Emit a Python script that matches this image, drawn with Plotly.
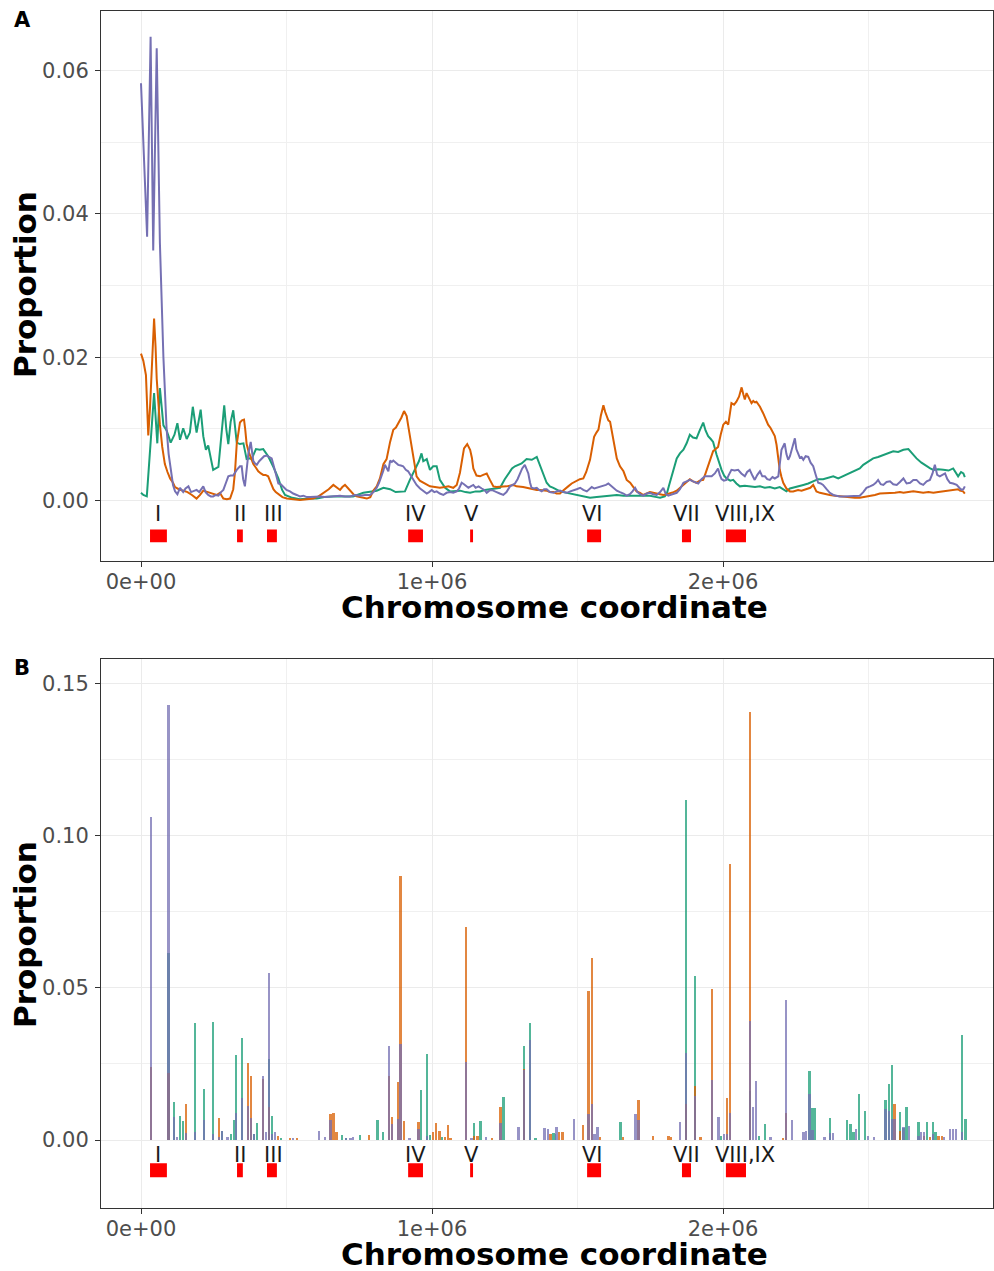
import plotly.graph_objects as go

# ---------------- Panel A: smoothed proportions (x in kb) ----------------
green_x = [0, 8, 20, 33, 45, 56, 65, 77, 88, 102, 115, 125, 134, 145, 157, 168, 178, 191, 205, 214, 223, 231, 240, 248, 257, 266, 276, 286, 293, 300, 308, 317, 329, 340, 352, 363, 372, 380, 395, 408, 420, 437, 455, 472, 485, 495, 520, 546, 575, 604, 630, 661, 695, 729, 764, 790, 810, 833, 856, 875, 890, 907, 924, 941, 955, 964, 970, 982, 993, 1004, 1016, 1027, 1045, 1062, 1080, 1097, 1115, 1131, 1150, 1165, 1182, 1200, 1217, 1234, 1250, 1262, 1275, 1285, 1297, 1308, 1325, 1343, 1360, 1370, 1377, 1394, 1405, 1417, 1440, 1463, 1480, 1497, 1520, 1543, 1566, 1589, 1612, 1635, 1658, 1681, 1703, 1726, 1749, 1772, 1784, 1800, 1807, 1815, 1824, 1833, 1841, 1852, 1864, 1875, 1886, 1897, 1909, 1920, 1932, 1940, 1949, 1958, 1966, 1978, 1987, 1995, 2004, 2012, 2025, 2035, 2046, 2058, 2075, 2092, 2110, 2127, 2144, 2161, 2178, 2195, 2207, 2218, 2230, 2241, 2258, 2276, 2293, 2310, 2327, 2344, 2361, 2379, 2396, 2413, 2436, 2459, 2470, 2482, 2500, 2516, 2533, 2551, 2568, 2585, 2602, 2620, 2637, 2650, 2665, 2682, 2700, 2712, 2723, 2740, 2757, 2775, 2791, 2800, 2808, 2818, 2826, 2831]
green_y = [0.0011, 0.0008, 0.0006, 0.0085, 0.0150, 0.0080, 0.0157, 0.0105, 0.0098, 0.0081, 0.0092, 0.0108, 0.0085, 0.0101, 0.0086, 0.0095, 0.0131, 0.0095, 0.0127, 0.0090, 0.0071, 0.0077, 0.0060, 0.0043, 0.0045, 0.0047, 0.0090, 0.0133, 0.0100, 0.0079, 0.0110, 0.0126, 0.0081, 0.0079, 0.0080, 0.0058, 0.0059, 0.0058, 0.0072, 0.0071, 0.0072, 0.0062, 0.0047, 0.0031, 0.0015, 0.0008, 0.0004, 0.0002, 0.0003, 0.0003, 0.0005, 0.0006, 0.0006, 0.0006, 0.0011, 0.0013, 0.0014, 0.0018, 0.0016, 0.0012, 0.0012, 0.0013, 0.0029, 0.0043, 0.0055, 0.0066, 0.0055, 0.0058, 0.0043, 0.0048, 0.0048, 0.0029, 0.0018, 0.0013, 0.0014, 0.0014, 0.0012, 0.0011, 0.0013, 0.0013, 0.0015, 0.0016, 0.0017, 0.0018, 0.0030, 0.0038, 0.0045, 0.0048, 0.0050, 0.0052, 0.0058, 0.0057, 0.0061, 0.0050, 0.0043, 0.0025, 0.0020, 0.0018, 0.0013, 0.0011, 0.0009, 0.0007, 0.0005, 0.0004, 0.0005, 0.0006, 0.0007, 0.0008, 0.0007, 0.0007, 0.0006, 0.0007, 0.0007, 0.0005, 0.0004, 0.0006, 0.0010, 0.0022, 0.0034, 0.0048, 0.0059, 0.0066, 0.0071, 0.0080, 0.0092, 0.0088, 0.0087, 0.0098, 0.0109, 0.0098, 0.0090, 0.0086, 0.0082, 0.0064, 0.0052, 0.0043, 0.0035, 0.0031, 0.0028, 0.0029, 0.0024, 0.0020, 0.0021, 0.0020, 0.0019, 0.0020, 0.0018, 0.0019, 0.0017, 0.0019, 0.0016, 0.0013, 0.0017, 0.0018, 0.0020, 0.0022, 0.0024, 0.0027, 0.0030, 0.0030, 0.0032, 0.0034, 0.0031, 0.0034, 0.0038, 0.0043, 0.0045, 0.0050, 0.0055, 0.0059, 0.0061, 0.0064, 0.0066, 0.0069, 0.0068, 0.0071, 0.0072, 0.0066, 0.0059, 0.0053, 0.0048, 0.0045, 0.0043, 0.0044, 0.0043, 0.0042, 0.0045, 0.0040, 0.0034, 0.0040, 0.0038, 0.0033]

orange_x = [0, 8, 17, 25, 31, 37, 45, 50, 54, 60, 65, 73, 82, 91, 100, 110, 117, 130, 145, 160, 175, 191, 203, 214, 230, 248, 260, 271, 283, 295, 306, 317, 323, 329, 335, 340, 347, 354, 358, 363, 370, 375, 386, 395, 403, 412, 420, 428, 437, 446, 455, 463, 472, 486, 501, 523, 546, 570, 592, 610, 627, 645, 661, 672, 684, 692, 701, 710, 718, 730, 741, 760, 776, 788, 798, 810, 821, 833, 844, 856, 867, 876, 884, 895, 904, 913, 918, 924, 930, 936, 947, 958, 970, 982, 993, 1010, 1027, 1045, 1056, 1073, 1085, 1096, 1104, 1110, 1121, 1131, 1137, 1142, 1153, 1165, 1176, 1188, 1199, 1211, 1222, 1234, 1245, 1256, 1268, 1279, 1290, 1302, 1313, 1325, 1336, 1348, 1360, 1371, 1383, 1394, 1405, 1417, 1428, 1440, 1450, 1457, 1468, 1480, 1490, 1497, 1508, 1520, 1530, 1543, 1550, 1557, 1565, 1572, 1580, 1589, 1595, 1600, 1606, 1612, 1618, 1623, 1629, 1635, 1646, 1658, 1669, 1681, 1692, 1703, 1715, 1726, 1738, 1749, 1760, 1772, 1784, 1795, 1807, 1818, 1830, 1841, 1852, 1864, 1875, 1886, 1897, 1909, 1920, 1932, 1940, 1949, 1958, 1966, 1975, 1983, 1992, 2001, 2010, 2018, 2024, 2029, 2038, 2046, 2055, 2064, 2070, 2075, 2081, 2087, 2092, 2098, 2104, 2110, 2115, 2127, 2138, 2146, 2155, 2164, 2172, 2178, 2184, 2190, 2195, 2201, 2207, 2218, 2230, 2241, 2258, 2270, 2287, 2300, 2310, 2321, 2333, 2350, 2367, 2385, 2402, 2419, 2436, 2453, 2470, 2487, 2505, 2522, 2539, 2557, 2574, 2591, 2608, 2620, 2637, 2654, 2671, 2688, 2706, 2723, 2740, 2757, 2774, 2791, 2808, 2814, 2825, 2831]
orange_y = [0.0205, 0.0195, 0.0175, 0.0091, 0.0130, 0.0190, 0.0254, 0.0215, 0.0170, 0.0135, 0.0106, 0.0075, 0.0051, 0.0040, 0.0031, 0.0025, 0.0019, 0.0016, 0.0014, 0.0012, 0.0008, 0.0003, 0.0008, 0.0014, 0.0012, 0.0009, 0.0008, 0.0011, 0.0003, 0.0002, 0.0003, 0.0016, 0.0040, 0.0079, 0.0098, 0.0109, 0.0112, 0.0113, 0.0100, 0.0079, 0.0068, 0.0062, 0.0051, 0.0046, 0.0041, 0.0038, 0.0036, 0.0036, 0.0034, 0.0025, 0.0016, 0.0012, 0.0009, 0.0005, 0.0003, 0.0002, 0.0001, 0.0002, 0.0003, 0.0006, 0.0011, 0.0016, 0.0022, 0.0019, 0.0015, 0.0019, 0.0022, 0.0018, 0.0014, 0.0009, 0.0006, 0.0004, 0.0003, 0.0005, 0.0014, 0.0020, 0.0031, 0.0051, 0.0058, 0.0082, 0.0099, 0.0102, 0.0108, 0.0116, 0.0125, 0.0118, 0.0105, 0.0090, 0.0075, 0.0057, 0.0034, 0.0028, 0.0025, 0.0023, 0.0020, 0.0019, 0.0018, 0.0019, 0.0020, 0.0018, 0.0022, 0.0039, 0.0058, 0.0073, 0.0079, 0.0071, 0.0060, 0.0045, 0.0035, 0.0034, 0.0036, 0.0038, 0.0029, 0.0020, 0.0019, 0.0019, 0.0020, 0.0020, 0.0021, 0.0022, 0.0020, 0.0020, 0.0019, 0.0018, 0.0017, 0.0016, 0.0015, 0.0015, 0.0014, 0.0014, 0.0012, 0.0012, 0.0010, 0.0010, 0.0014, 0.0016, 0.0020, 0.0024, 0.0026, 0.0027, 0.0030, 0.0031, 0.0040, 0.0057, 0.0072, 0.0089, 0.0095, 0.0099, 0.0118, 0.0133, 0.0124, 0.0117, 0.0112, 0.0110, 0.0098, 0.0085, 0.0072, 0.0059, 0.0048, 0.0041, 0.0029, 0.0025, 0.0019, 0.0013, 0.0011, 0.0008, 0.0010, 0.0012, 0.0011, 0.0010, 0.0008, 0.0008, 0.0009, 0.0010, 0.0012, 0.0014, 0.0018, 0.0022, 0.0027, 0.0030, 0.0027, 0.0025, 0.0028, 0.0029, 0.0038, 0.0048, 0.0058, 0.0069, 0.0072, 0.0075, 0.0092, 0.0106, 0.0110, 0.0106, 0.0122, 0.0136, 0.0134, 0.0138, 0.0145, 0.0158, 0.0148, 0.0141, 0.0150, 0.0145, 0.0140, 0.0136, 0.0139, 0.0137, 0.0138, 0.0131, 0.0122, 0.0115, 0.0106, 0.0101, 0.0094, 0.0090, 0.0078, 0.0060, 0.0043, 0.0033, 0.0025, 0.0017, 0.0013, 0.0013, 0.0015, 0.0014, 0.0016, 0.0018, 0.0022, 0.0013, 0.0011, 0.0009, 0.0008, 0.0007, 0.0006, 0.0005, 0.0004, 0.0004, 0.0004, 0.0005, 0.0007, 0.0008, 0.0010, 0.0010, 0.0010, 0.0011, 0.0012, 0.0011, 0.0012, 0.0013, 0.0012, 0.0011, 0.0012, 0.0011, 0.0012, 0.0013, 0.0014, 0.0015, 0.0016, 0.0014, 0.0013, 0.0010]

purple_x = [0, 21, 33, 42, 54, 65, 77, 88, 95, 102, 110, 117, 125, 134, 145, 153, 163, 172, 180, 191, 200, 214, 222, 231, 240, 248, 257, 266, 275, 283, 292, 300, 308, 317, 329, 340, 346, 351, 357, 363, 369, 377, 382, 386, 392, 398, 406, 415, 423, 432, 440, 449, 455, 460, 466, 472, 480, 489, 500, 512, 523, 535, 546, 558, 570, 581, 598, 615, 632, 650, 667, 684, 701, 718, 735, 753, 770, 787, 799, 810, 818, 827, 833, 838, 845, 850, 856, 862, 867, 876, 884, 893, 901, 910, 918, 927, 936, 947, 959, 970, 982, 990, 999, 1008, 1016, 1027, 1039, 1050, 1062, 1073, 1085, 1093, 1102, 1110, 1118, 1125, 1133, 1142, 1150, 1160, 1171, 1180, 1188, 1197, 1205, 1214, 1222, 1233, 1245, 1256, 1268, 1277, 1285, 1294, 1302, 1310, 1319, 1325, 1331, 1337, 1342, 1351, 1360, 1368, 1377, 1385, 1394, 1405, 1417, 1428, 1440, 1452, 1463, 1475, 1486, 1497, 1509, 1520, 1532, 1540, 1549, 1558, 1566, 1578, 1589, 1598, 1606, 1614, 1623, 1635, 1646, 1658, 1669, 1680, 1689, 1698, 1706, 1715, 1726, 1738, 1749, 1760, 1772, 1784, 1795, 1803, 1812, 1826, 1841, 1852, 1864, 1875, 1886, 1897, 1906, 1915, 1926, 1938, 1949, 1961, 1972, 1983, 1989, 1995, 2003, 2012, 2020, 2029, 2040, 2052, 2063, 2075, 2083, 2092, 2101, 2109, 2118, 2127, 2135, 2144, 2152, 2161, 2170, 2178, 2190, 2196, 2201, 2207, 2212, 2218, 2224, 2230, 2235, 2241, 2247, 2252, 2258, 2264, 2270, 2276, 2284, 2293, 2301, 2310, 2318, 2327, 2336, 2344, 2356, 2367, 2379, 2390, 2401, 2413, 2430, 2447, 2459, 2470, 2482, 2493, 2505, 2516, 2525, 2533, 2542, 2551, 2562, 2574, 2585, 2597, 2608, 2620, 2631, 2643, 2654, 2665, 2677, 2688, 2700, 2711, 2720, 2728, 2736, 2745, 2754, 2763, 2771, 2780, 2791, 2803, 2812, 2820, 2826, 2831]
purple_y = [0.0582, 0.0368, 0.0647, 0.0349, 0.0631, 0.0359, 0.0200, 0.0100, 0.0065, 0.0041, 0.0022, 0.0013, 0.0009, 0.0018, 0.0012, 0.0017, 0.0020, 0.0012, 0.0013, 0.0015, 0.0012, 0.0020, 0.0012, 0.0008, 0.0006, 0.0006, 0.0008, 0.0007, 0.0012, 0.0015, 0.0025, 0.0034, 0.0035, 0.0035, 0.0043, 0.0048, 0.0048, 0.0030, 0.0020, 0.0045, 0.0066, 0.0082, 0.0070, 0.0055, 0.0052, 0.0050, 0.0055, 0.0059, 0.0062, 0.0063, 0.0061, 0.0059, 0.0050, 0.0043, 0.0033, 0.0024, 0.0023, 0.0020, 0.0015, 0.0013, 0.0010, 0.0008, 0.0006, 0.0007, 0.0005, 0.0005, 0.0006, 0.0006, 0.0005, 0.0006, 0.0007, 0.0007, 0.0006, 0.0006, 0.0008, 0.0007, 0.0008, 0.0008, 0.0012, 0.0018, 0.0025, 0.0034, 0.0042, 0.0050, 0.0044, 0.0041, 0.0056, 0.0054, 0.0056, 0.0052, 0.0050, 0.0049, 0.0048, 0.0043, 0.0041, 0.0035, 0.0029, 0.0022, 0.0017, 0.0013, 0.0010, 0.0012, 0.0015, 0.0012, 0.0013, 0.0010, 0.0008, 0.0011, 0.0012, 0.0011, 0.0013, 0.0017, 0.0025, 0.0023, 0.0020, 0.0018, 0.0020, 0.0022, 0.0018, 0.0020, 0.0017, 0.0015, 0.0011, 0.0014, 0.0015, 0.0013, 0.0012, 0.0010, 0.0008, 0.0012, 0.0020, 0.0022, 0.0024, 0.0030, 0.0038, 0.0045, 0.0050, 0.0045, 0.0038, 0.0025, 0.0018, 0.0017, 0.0018, 0.0015, 0.0013, 0.0016, 0.0016, 0.0012, 0.0011, 0.0013, 0.0014, 0.0012, 0.0011, 0.0013, 0.0015, 0.0016, 0.0018, 0.0015, 0.0013, 0.0016, 0.0019, 0.0017, 0.0018, 0.0019, 0.0020, 0.0022, 0.0024, 0.0021, 0.0018, 0.0014, 0.0012, 0.0010, 0.0007, 0.0009, 0.0013, 0.0018, 0.0012, 0.0009, 0.0007, 0.0010, 0.0011, 0.0009, 0.0008, 0.0012, 0.0018, 0.0010, 0.0007, 0.0009, 0.0011, 0.0016, 0.0025, 0.0027, 0.0029, 0.0027, 0.0025, 0.0024, 0.0030, 0.0034, 0.0034, 0.0034, 0.0038, 0.0045, 0.0036, 0.0030, 0.0028, 0.0029, 0.0036, 0.0043, 0.0042, 0.0043, 0.0038, 0.0034, 0.0040, 0.0043, 0.0035, 0.0029, 0.0036, 0.0041, 0.0034, 0.0034, 0.0030, 0.0029, 0.0033, 0.0031, 0.0034, 0.0055, 0.0071, 0.0076, 0.0080, 0.0065, 0.0057, 0.0062, 0.0070, 0.0080, 0.0087, 0.0072, 0.0066, 0.0060, 0.0061, 0.0057, 0.0062, 0.0061, 0.0053, 0.0048, 0.0037, 0.0025, 0.0024, 0.0022, 0.0016, 0.0011, 0.0008, 0.0007, 0.0006, 0.0006, 0.0006, 0.0006, 0.0007, 0.0007, 0.0012, 0.0018, 0.0020, 0.0022, 0.0025, 0.0029, 0.0023, 0.0022, 0.0026, 0.0027, 0.0023, 0.0022, 0.0026, 0.0031, 0.0024, 0.0025, 0.0029, 0.0029, 0.0024, 0.0022, 0.0027, 0.0029, 0.0038, 0.0050, 0.0036, 0.0034, 0.0036, 0.0038, 0.0030, 0.0025, 0.0024, 0.0022, 0.0018, 0.0015, 0.0016, 0.0020]

# ---------------- Panel B: per-site proportions (x in kb) ----------------
bar_green_x = [95, 114, 134, 144, 186, 216, 247, 278, 309, 319, 327, 347, 388, 399, 440, 450, 481, 691, 705, 753, 812, 832, 963, 983, 993, 1034, 1145, 1166, 1246, 1316, 1337, 1356, 1417, 1423, 1648, 1873, 1904, 1994, 2093, 2124, 2144, 2297, 2307, 2317, 2368, 2427, 2438, 2448, 2467, 2488, 2559, 2570, 2580, 2609, 2620, 2630, 2671, 2701, 2721, 2731, 2822, 2833]
bar_green_y = [0.0615, 0.0125, 0.0078, 0.0063, 0.0385, 0.0168, 0.0388, 0.0030, 0.0020, 0.0067, 0.0280, 0.0335, 0.0020, 0.0057, 0.0267, 0.0080, 0.0005, 0.0018, 0.0005, 0.0015, 0.0066, 0.0025, 0.0163, 0.0284, 0.0016, 0.0010, 0.0055, 0.0064, 0.0140, 0.0308, 0.0385, 0.0005, 0.0022, 0.0020, 0.0058, 0.1118, 0.0540, 0.0014, 0.0160, 0.0014, 0.0053, 0.0225, 0.0105, 0.0105, 0.0072, 0.0066, 0.0053, 0.0025, 0.0151, 0.0096, 0.0132, 0.0184, 0.0247, 0.0093, 0.0038, 0.0107, 0.0058, 0.0058, 0.0058, 0.0025, 0.0345, 0.0069]

bar_orange_x = [34, 95, 155, 268, 368, 378, 419, 440, 471, 512, 536, 651, 661, 671, 783, 852, 862, 883, 892, 903, 954, 1004, 1014, 1025, 1045, 1055, 1064, 1116, 1145, 1157, 1206, 1236, 1316, 1407, 1437, 1448, 1518, 1538, 1549, 1578, 1657, 1710, 1760, 1812, 1822, 1873, 1904, 1922, 1963, 2013, 2024, 2093, 2206, 2216, 2590, 2609, 2691, 2711, 2741, 2752]
bar_orange_y = [0.0240, 0.0220, 0.0117, 0.0072, 0.0253, 0.0210, 0.0200, 0.0107, 0.0012, 0.0005, 0.0005, 0.0084, 0.0090, 0.0026, 0.0015, 0.0210, 0.0077, 0.0190, 0.0868, 0.0063, 0.0058, 0.0025, 0.0055, 0.0030, 0.0009, 0.0050, 0.0005, 0.0700, 0.0014, 0.0014, 0.0007, 0.0110, 0.0234, 0.0020, 0.0027, 0.0027, 0.0050, 0.0490, 0.0597, 0.0009, 0.0011, 0.0130, 0.0013, 0.0014, 0.0011, 0.0118, 0.0177, 0.0011, 0.0495, 0.0137, 0.0905, 0.1405, 0.0005, 0.0090, 0.0118, 0.0030, 0.0014, 0.0011, 0.0014, 0.0014]

bar_purple_x = [34, 95, 114, 124, 155, 186, 216, 247, 268, 278, 298, 327, 347, 368, 378, 388, 419, 429, 440, 450, 460, 522, 612, 632, 651, 705, 720, 729, 852, 862, 883, 892, 922, 954, 983, 1116, 1136, 1186, 1236, 1297, 1316, 1337, 1387, 1398, 1428, 1488, 1538, 1549, 1559, 1568, 1700, 1710, 1853, 1873, 1904, 1963, 1984, 2004, 2013, 2024, 2093, 2103, 2113, 2164, 2216, 2237, 2277, 2286, 2297, 2307, 2348, 2368, 2378, 2457, 2498, 2519, 2559, 2570, 2580, 2590, 2620, 2640, 2671, 2681, 2691, 2721, 2760, 2780, 2790, 2801, 2822]
bar_purple_y = [0.1060, 0.1430, 0.0075, 0.0010, 0.0023, 0.0026, 0.0067, 0.0020, 0.0010, 0.0030, 0.0010, 0.0090, 0.0137, 0.0113, 0.0072, 0.0020, 0.0209, 0.0026, 0.0550, 0.0020, 0.0026, 0.0005, 0.0028, 0.0010, 0.0067, 0.0005, 0.0008, 0.0010, 0.0309, 0.0054, 0.0070, 0.0314, 0.0005, 0.0036, 0.0014, 0.0256, 0.0005, 0.0009, 0.0055, 0.0042, 0.0229, 0.0330, 0.0040, 0.0036, 0.0044, 0.0068, 0.0086, 0.0119, 0.0020, 0.0042, 0.0084, 0.0066, 0.0058, 0.0285, 0.0146, 0.0198, 0.0075, 0.0020, 0.0020, 0.0088, 0.0390, 0.0107, 0.0193, 0.0009, 0.0460, 0.0066, 0.0025, 0.0030, 0.0151, 0.0033, 0.0009, 0.0022, 0.0022, 0.0036, 0.0014, 0.0009, 0.0102, 0.0096, 0.0069, 0.0069, 0.0042, 0.0047, 0.0014, 0.0025, 0.0025, 0.0020, 0.0009, 0.0036, 0.0036, 0.0036, 0.0025]

# ---------------- Annotated regions (kb) ----------------
region_labels = ["I", "II", "III", "IV", "V", "VI", "VII", "VIII,IX"]
region_start = [31, 330, 433, 918, 1131, 1533, 1859, 2010]
region_end = [89, 350, 467, 969, 1141, 1581, 1890, 2079]
label_pos = [58, 340, 454, 942, 1137, 1553, 1876, 2076]

x_ticks = [0, 1e6, 2e6]
x_ticktext = ["0e+00", "1e+06", "2e+06"]
a_ticks = [0.0, 0.02, 0.04, 0.06]
a_ticktext = ["0.00", "0.02", "0.04", "0.06"]
b_ticks = [0.0, 0.05, 0.10, 0.15]
b_ticktext = ["0.00", "0.05", "0.10", "0.15"]

COL_G, COL_O, COL_P = "#1b9e77", "#d95f02", "#7570b3"
KB = 1000
FW, FH = 994, 1271
FONT = "DejaVu Sans"

def kb(v):
    return [a * KB for a in v]

def fx(px):
    return px / FW

def fy(py):
    return 1 - py / FH

fig = go.Figure()

# Panel A lines
for xs, ys, c in [(green_x, green_y, COL_G), (orange_x, orange_y, COL_O), (purple_x, purple_y, COL_P)]:
    fig.add_trace(go.Scatter(x=kb(xs), y=ys, mode="lines", line=dict(color=c, width=2),
                             xaxis="x", yaxis="y", showlegend=False, hoverinfo="skip"))

# Panel B bars
for xs, ys, c in [(bar_green_x, bar_green_y, COL_G), (bar_orange_x, bar_orange_y, COL_O), (bar_purple_x, bar_purple_y, COL_P)]:
    fig.add_trace(go.Bar(x=kb(xs), y=ys, width=8500, marker=dict(color=c, line=dict(width=0)),
                         opacity=0.75, xaxis="x2", yaxis="y2", showlegend=False, hoverinfo="skip"))

# Regions (red boxes + labels)
shapes = []
annotations = []
panels = [("x", "y", -0.0019, -0.0040, -0.0058), ("x2", "y2", -0.0049, -0.0076, -0.0122)]
for xr, yr, ty, r0, r1 in panels:
    for lab, s, e, p in zip(region_labels, region_start, region_end, label_pos):
        shapes.append(dict(type="rect", xref=xr, yref=yr, x0=s * KB, x1=e * KB, y0=r1, y1=r0,
                           fillcolor="#ff0000", line=dict(width=0), layer="above"))
        annotations.append(dict(x=p * KB, y=ty, xref=xr, yref=yr, text=lab, showarrow=False,
                                font=dict(size=21, color="#1a1a1a", family=FONT),
                                xanchor="center", yanchor="middle"))

# Axis titles & panel tags
for cy in (607, 1254):
    annotations.append(dict(x=fx(554), y=fy(cy), xref="paper", yref="paper",
                            text="<b>Chromosome coordinate</b>", showarrow=False,
                            font=dict(size=31, color="#000000", family=FONT),
                            xanchor="center", yanchor="middle"))
for cy in (285, 935):
    annotations.append(dict(x=fx(25), y=fy(cy), xref="paper", yref="paper",
                            text="<b>Proportion</b>", showarrow=False, textangle=-90,
                            font=dict(size=31, color="#000000", family=FONT),
                            xanchor="center", yanchor="middle"))
for tag, cy in (("A", 20), ("B", 668)):
    annotations.append(dict(x=fx(22), y=fy(cy), xref="paper", yref="paper",
                            text="<b>" + tag + "</b>", showarrow=False,
                            font=dict(size=21, color="#000000", family=FONT),
                            xanchor="center", yanchor="middle"))

x_range = [(101 - 141) / 291e-6, (993 - 141) / 291e-6]
grid = dict(showgrid=True, gridcolor="#ebebeb", gridwidth=1.2, zeroline=False,
            showline=True, mirror=True, linecolor="#333333", linewidth=1,
            ticks="outside", ticklen=5, tickcolor="#333333", tickwidth=1,
            tickfont=dict(size=21, color="#4d4d4d", family=FONT))
minor_style = dict(showgrid=True, gridcolor="#f0f0f0", gridwidth=0.9, ticks="")

xa = dict(grid, domain=[fx(101), fx(993)], range=x_range, tickvals=x_ticks,
          ticktext=x_ticktext, ticklabelstandoff=-3,
          minor=dict(minor_style, tickvals=[5e5, 1.5e6, 2.5e6]))
fig.update_layout(
    width=FW, height=FH, margin=dict(l=0, r=0, t=0, b=0),
    paper_bgcolor="white", plot_bgcolor="white",
    font=dict(family=FONT), barmode="overlay", bargap=0,
    xaxis=dict(xa, anchor="y"),
    yaxis=dict(grid, domain=[fy(560.7), fy(10.7)], range=[-(560.7 - 500.7) / 7172, (500.7 - 10.7) / 7172],
               tickvals=a_ticks, ticktext=a_ticktext, anchor="x", ticklabelstandoff=2,
               minor=dict(minor_style, tickvals=[0.01, 0.03, 0.05])),
    xaxis2=dict(xa, anchor="y2"),
    yaxis2=dict(grid, domain=[fy(1207.5), fy(659)], range=[-(1207.5 - 1140) / 3045, (1140 - 659) / 3045],
                tickvals=b_ticks, ticktext=b_ticktext, anchor="x2", ticklabelstandoff=2,
                minor=dict(minor_style, tickvals=[0.025, 0.075, 0.125])),
    shapes=shapes, annotations=annotations,
)

# remove the default page margin so the figure fills the 994x1271 window exactly
fig.write_html("out.html", config={"displayModeBar": False},
               post_script="document.body.style.margin='0';document.body.style.overflow='hidden';")
